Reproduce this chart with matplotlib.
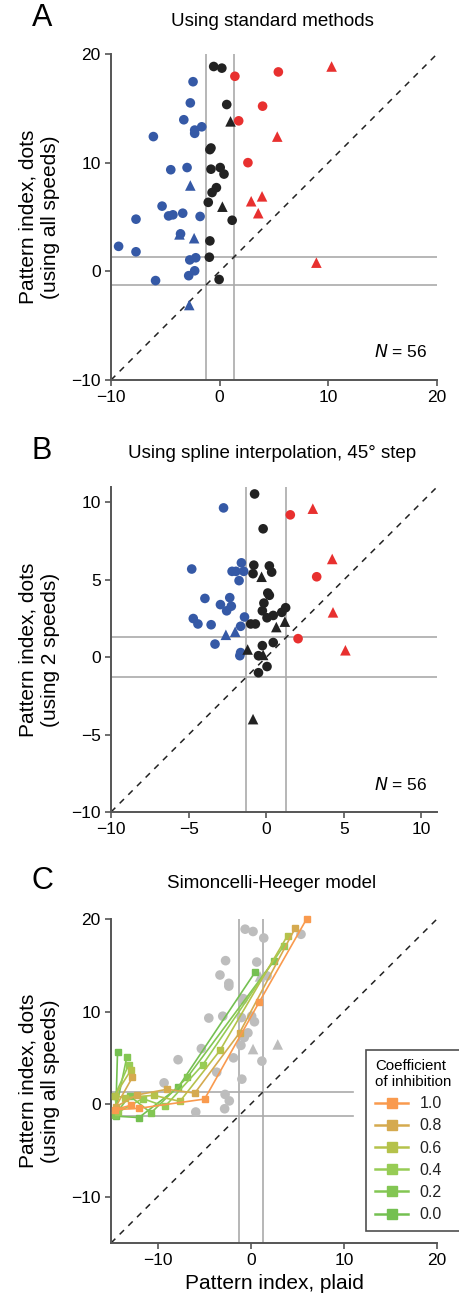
import numpy as np
import matplotlib
matplotlib.use("Agg")
import matplotlib.pyplot as plt
from matplotlib.lines import Line2D

plt.rcParams['font.family'] = ['Liberation Sans', 'DejaVu Sans']

BLUE = '#3559a6'
RED = '#e8302f'
BLACK = '#222222'
GRAY = '#bdbdbd'
THR = 1.28

# ---- panel A: standard methods (x = plaid, y = dots) ----
a_blue_circ_x = [-9.3, -7.7, -7.7, -6.1, -5.9, -5.3, -4.7, -4.3, -4.5, -3.6, -3.4, -3.3,
                 -3.0, -2.7, -2.45, -2.3, -2.3, -1.65, -1.8, -2.75, -2.2, -2.3, -2.85]
a_blue_circ_y = [2.3, 4.8, 1.8, 12.4, -0.85, 6.0, 5.1, 5.2, 9.35, 3.45, 5.35, 13.95,
                 9.55, 15.5, 17.45, 13.0, 12.7, 13.3, 5.05, 1.05, 1.25, 0.05, -0.4]
a_blue_tri_x = [-2.7, -3.7, -2.35, -2.8]
a_blue_tri_y = [7.9, 3.4, 3.05, -3.1]
a_black_circ_x = [-0.55, 0.2, 0.65, -0.9, -0.8, -0.8, 0.05, 0.4, -0.3, -0.7, -1.05, 1.15, -0.9, -0.95, -0.05]
a_black_circ_y = [18.85, 18.7, 15.35, 11.2, 11.35, 9.4, 9.55, 8.95, 7.7, 7.25, 6.35, 4.7, 2.8, 1.3, -0.75]
a_black_tri_x = [1.0, 0.25]
a_black_tri_y = [13.8, 5.95]
a_red_circ_x = [1.4, 5.4, 3.95, 1.75, 2.6]
a_red_circ_y = [17.95, 18.35, 15.2, 13.85, 10.0]
a_red_tri_x = [10.3, 5.3, 3.9, 2.9, 3.55, 8.9]
a_red_tri_y = [18.85, 12.4, 6.9, 6.45, 5.35, 0.8]

# ---- panel B: spline interpolation ----
b_blue_circ_x = [-2.75, -4.8, -1.6, -2.2, -1.95, -1.45, -1.75, -3.95, -2.95, -2.35, -2.25,
                 -2.55, -4.7, -4.4, -3.55, -1.4, -1.65, -3.3, -1.65, -1.7]
b_blue_circ_y = [9.65, 5.7, 6.1, 5.55, 5.55, 5.55, 4.95, 3.8, 3.4, 3.85, 3.3,
                 3.0, 2.5, 2.15, 2.1, 2.6, 2.0, 0.85, 0.3, 0.1]
b_blue_tri_x = [-2.6, -2.0]
b_blue_tri_y = [1.45, 1.65]
b_black_circ_x = [-0.75, -0.2, -0.8, -0.85, 0.2, 0.35, 0.1, 0.2, -0.15, -0.25, 1.25, 1.0,
                  0.45, 0.05, -1.0, -0.7, -0.25, 0.45, -0.5, 0.05, -0.5]
b_black_circ_y = [10.55, 8.3, 5.95, 5.4, 5.9, 5.5, 4.15, 4.0, 3.5, 3.0, 3.2, 2.9,
                  2.7, 2.55, 2.15, 2.15, 0.75, 0.95, 0.1, -0.6, -1.0]
b_black_tri_x = [-0.3, 0.65, 1.2, -1.2, -0.2, -0.85]
b_black_tri_y = [5.2, 1.95, 2.3, 0.5, 0.15, -4.0]
b_red_circ_x = [1.55, 3.25, 2.05]
b_red_circ_y = [9.2, 5.2, 1.2]
b_red_tri_x = [3.0, 4.25, 4.3, 5.1]
b_red_tri_y = [9.6, 6.35, 2.9, 0.45]

# ---- panel C: data neurons shown in gray behind the model ----
c_circ_x = [-0.6, 0.25, 1.4, 5.4, -2.7, 0.65, -3.3, -2.35, -2.35, 1.75, -0.9, -0.8,
            -4.5, -3.0, -1.0, 0.1, 0.4, -0.7, -0.3, -1.05, -5.3, -7.8, -9.3, -3.65,
            -1.85, 1.2, -0.95, -2.75, -2.3, -2.8, -5.9]
c_circ_y = [18.9, 18.65, 17.95, 18.35, 15.5, 15.35, 13.95, 13.05, 12.75, 13.85, 11.25, 11.4,
            9.3, 9.5, 9.35, 9.5, 8.9, 7.2, 7.7, 6.35, 6.0, 4.8, 2.3, 3.45,
            5.0, 4.65, 2.7, 1.05, 0.35, -0.5, -0.85]
c_tri_x = [1.0, 0.25, 2.9]
c_tri_y = [13.8, 5.95, 6.45]

# Simoncelli-Heeger model, one curve per coefficient of inhibition
coefs = ['1.0', '0.8', '0.6', '0.4', '0.2', '0.0']
coef_colors = ['#f99a4e', '#d5aa4f', '#b5c24b', '#97cc55', '#83c653', '#74c051']
model_x = [
    [6.0, 0.9, -4.95, -12.0, -14.6, -12.8],
    [4.8, -1.2, -6.0, -9.0, -12.2, -14.5, -12.7],
    [3.95, -3.3, -7.6, -10.4, -13.5, -14.6, -12.85],
    [3.55, -5.15, -9.2, -11.6, -14.3, -14.6, -13.1],
    [2.5, -6.8, -10.7, -13.0, -14.6, -13.3],
    [0.5, -7.8, -12.0, -14.5, -14.3],
]
model_y = [
    [20.0, 11.0, 0.55, -0.45, -0.6, -0.1],
    [19.05, 7.7, 1.2, 1.6, 1.0, -0.3, 2.9],
    [18.2, 5.8, 0.3, 0.95, 0.7, 0.9, 3.7],
    [17.1, 4.25, -0.25, 0.6, -0.9, 0.9, 4.25],
    [15.5, 2.9, -0.95, 0.9, -1.2, 5.1],
    [14.3, 1.8, -1.45, -1.3, 5.6],
]


def style_axes(ax, lim_x, lim_y, ticks_x, ticks_y):
    ax.set_xlim(*lim_x)
    ax.set_ylim(*lim_y)
    ax.set_xticks(ticks_x)
    ax.set_yticks(ticks_y)
    ax.set_xticklabels(['\u2212%d' % -t if t < 0 else '%d' % t for t in ticks_x])
    ax.set_yticklabels(['\u2212%d' % -t if t < 0 else '%d' % t for t in ticks_y])
    for s in ['top', 'right']:
        ax.spines[s].set_visible(False)
    for s in ['left', 'bottom']:
        ax.spines[s].set_color('#555555')
        ax.spines[s].set_linewidth(1.4)
    ax.tick_params(direction='out', length=4, width=1.2, color='#555555', labelsize=12.5)


def guides(ax, lo, hi, hx=None):
    hx = hx if hx is not None else hi[0]
    for v in (-THR, THR):
        ax.plot([v, v], [lo[1], hi[1]], color='#aaaaaa', lw=1.2, zorder=1)
        ax.plot([lo[0], hx], [v, v], color='#aaaaaa', lw=1.2, zorder=1)
    d = [max(lo), min(hi)]
    ax.plot(d, d, color='#222222', lw=1.1, ls=(0, (4, 4)), zorder=1)


def scatter_groups(ax, groups):
    for xs, ys, col, mk in groups:
        ax.scatter(xs, ys, s=48 if mk == 'o' else 58, marker=mk, color=col, edgecolors='none', zorder=3)


fig = plt.figure(figsize=(4.6, 13.02), dpi=100)
W, H = 460, 1302

def add_ax(x0, top, x1, bottom):
    return fig.add_axes([x0 / W, 1 - bottom / H, (x1 - x0) / W, (bottom - top) / H])

# Panel A
axA = add_ax(111, 54, 437, 380)
style_axes(axA, (-10, 20), (-10, 20), [-10, 0, 10, 20], [-10, 0, 10, 20])
guides(axA, (-10, -10), (20, 20))
scatter_groups(axA, [
    (a_blue_circ_x, a_blue_circ_y, BLUE, 'o'), (a_blue_tri_x, a_blue_tri_y, BLUE, '^'),
    (a_black_circ_x, a_black_circ_y, BLACK, 'o'), (a_black_tri_x, a_black_tri_y, BLACK, '^'),
    (a_red_circ_x, a_red_circ_y, RED, 'o'), (a_red_tri_x, a_red_tri_y, RED, '^'),
])
axA.text(0.97, 0.06, r'$\it{N}$ = 56', transform=axA.transAxes, ha='right', va='bottom', fontsize=12.5)
axA.set_ylabel('Pattern index, dots\n(using all speeds)', fontsize=15, labelpad=8)

# Panel B
axB = add_ax(111, 487, 437, 812)
style_axes(axB, (-10, 11), (-10, 11), [-10, -5, 0, 5, 10], [-10, -5, 0, 5, 10])
guides(axB, (-10, -10), (11, 11))
scatter_groups(axB, [
    (b_blue_circ_x, b_blue_circ_y, BLUE, 'o'), (b_blue_tri_x, b_blue_tri_y, BLUE, '^'),
    (b_black_circ_x, b_black_circ_y, BLACK, 'o'), (b_black_tri_x, b_black_tri_y, BLACK, '^'),
    (b_red_circ_x, b_red_circ_y, RED, 'o'), (b_red_tri_x, b_red_tri_y, RED, '^'),
])
axB.text(0.97, 0.06, r'$\it{N}$ = 56', transform=axB.transAxes, ha='right', va='bottom', fontsize=12.5)
axB.set_ylabel('Pattern index, dots\n(using 2 speeds)', fontsize=15, labelpad=8)

# Panel C
axC = add_ax(111, 919, 437, 1243)
style_axes(axC, (-15, 20), (-15, 20), [-10, 0, 10, 20], [-10, 0, 10, 20])
guides(axC, (-15, -15), (20, 20), hx=11)
scatter_groups(axC, [(c_circ_x, c_circ_y, GRAY, 'o'), (c_tri_x, c_tri_y, GRAY, '^')])
for xs, ys, col in zip(model_x[::-1], model_y[::-1], coef_colors[::-1]):
    axC.plot(xs, ys, color=col, lw=1.2, marker='s', ms=5, zorder=4, clip_on=False)
handles = [Line2D([], [], color=col, lw=1.8, marker='s', ms=6.5, label=lab)
           for col, lab in zip(coef_colors, coefs)]
axC.set_ylabel('Pattern index, dots\n(using all speeds)', fontsize=15, labelpad=8)
axC.set_xlabel('Pattern index, plaid', fontsize=15, labelpad=4)
leg = fig.legend(handles=handles, title='Coefficient\nof inhibition', loc='upper left',
                 bbox_to_anchor=(366 / W, 1 - 1050 / H), fontsize=11.5, title_fontsize=10.8,
                 frameon=True, fancybox=False, edgecolor='#222222', handlelength=2.1,
                 handletextpad=0.7, labelspacing=0.45, borderpad=0.55, borderaxespad=0,
                 alignment='left')
leg.get_frame().set_linewidth(1.2)
leg._legend_box.align = 'left'
for t in leg.get_texts():
    t.set_color('#222222')

# titles and panel letters
for top, title, letter in [(21, 'Using standard methods', 'A'),
                           (454, 'Using spline interpolation, 45\u00b0 step', 'B'),
                           (884, 'Simoncelli-Heeger model', 'C')]:
    fig.text(272 / W, 1 - top / H, title, ha='center', va='center', fontsize=13.5)
    fig.text(42 / W, 1 - (top - 3) / H, letter, ha='center', va='center', fontsize=22)

fig.savefig('out.png', dpi=100)
